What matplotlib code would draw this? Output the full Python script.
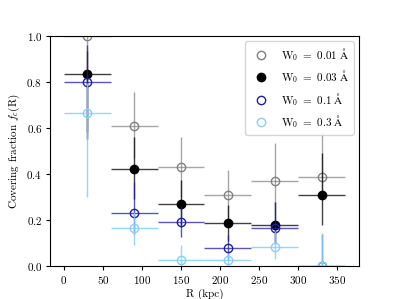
import numpy as np
import matplotlib
matplotlib.use('Agg')
import matplotlib.pyplot as plt
from matplotlib.colors import to_rgba
from matplotlib.ticker import MultipleLocator

plt.rcParams['font.family'] = ['cmr10', 'DejaVu Serif']
plt.rcParams['mathtext.fontset'] = 'cm'
plt.rcParams['axes.formatter.use_mathtext'] = True
plt.rcParams['font.size'] = 8
plt.rcParams['xtick.major.size'] = 3
plt.rcParams['ytick.major.size'] = 3
plt.rcParams['xtick.major.pad'] = 2.5
plt.rcParams['ytick.major.pad'] = 2.5

# radial bins (kpc)
R = np.array([30, 90, 150, 210, 270, 330])
R_err = np.array([30, 30, 30, 30, 30, 30])

# covering fractions and asymmetric errors per threshold
fc_001 = [1.0, 0.61, 0.43, 0.31, 0.37, 0.385]
lo_001 = [0.45, 0.14, 0.13, 0.10, 0.09, 0.10]
hi_001 = [0.0, 0.145, 0.13, 0.107, 0.165, 0.193]

fc_003 = [0.833, 0.42, 0.27, 0.187, 0.18, 0.31]
lo_003 = [0.25, 0.13, 0.10, 0.08, 0.08, 0.13]
hi_003 = [0.10, 0.14, 0.104, 0.078, 0.10, 0.18]

fc_01 = [0.80, 0.23, 0.19, 0.078, 0.167, 0.0]
lo_01 = [0.25, 0.09, 0.064, 0.05, 0.07, 0.0]
hi_01 = [0.16, 0.135, 0.07, 0.057, 0.113, 0.14]

fc_03 = [0.667, 0.167, 0.025, 0.028, 0.083, 0.0]
lo_03 = [0.367, 0.077, 0.025, 0.028, 0.05, 0.0]
hi_03 = [0.13, 0.07, 0.065, 0.03, 0.07, 0.143]

series = [
    (fc_001, lo_001, hi_001, 'gray', 'none', r'$\mathrm{W}_0\ =\ 0.01\ \mathrm{\AA}$', 0.7),
    (fc_003, lo_003, hi_003, 'black', 'black', r'$\mathrm{W}_0\ =\ 0.03\ \mathrm{\AA}$', 0.75),
    (fc_01, lo_01, hi_01, '#1f1fa0', 'none', r'$\mathrm{W}_0\ =\ 0.1\ \mathrm{\AA}$', 0.75),
    (fc_03, lo_03, hi_03, 'lightskyblue', 'none', r'$\mathrm{W}_0\ =\ 0.3\ \mathrm{\AA}$', 0.85),
]

fig, ax = plt.subplots(figsize=(3.99, 2.99), dpi=100)

for fc, lo, hi, col, face, lab, a in series:
    ax.errorbar(R, fc, xerr=R_err, yerr=[lo, hi], fmt='none',
                ecolor=to_rgba(col, a), elinewidth=1.0, capsize=0)
    ax.plot(R, fc, 'o', ms=6, mfc=face, mec=col, mew=1.0, label=lab)

ax.set_ylim(0, 1)
ax.xaxis.set_major_locator(MultipleLocator(50))
ax.set_xlabel('R (kpc)', labelpad=2)
ax.set_ylabel(r'Covering fraction $f_c$(R)', labelpad=3)
ax.legend(loc='upper right')

plt.savefig('out.png', dpi=100)
